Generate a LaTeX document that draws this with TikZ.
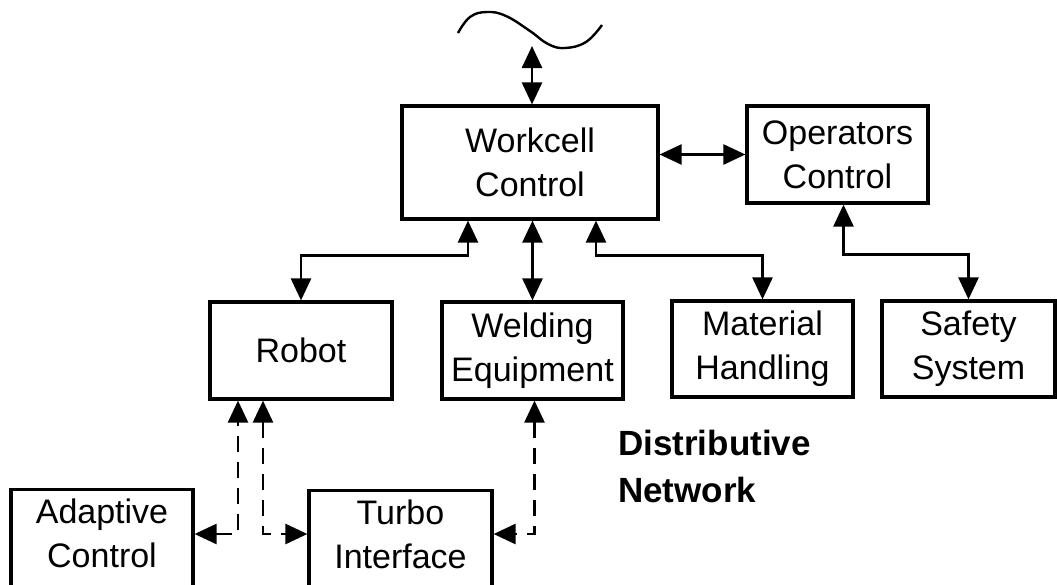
\documentclass[tikz,border=0pt]{standalone}
\usepackage{fontspec}
\setmainfont{Liberation Sans}
\usetikzlibrary{arrows.meta}

\tikzset{
    block/.style = {draw, line width=3.2pt, align=center, inner sep=0pt,
                    font=\fontsize{34}{44}\selectfont},
    cutblock/.style = {block, anchor=north, inner ysep=9pt, text depth=24pt},
    tip/.tip = {Triangle[length=22pt,width=20pt]},
    link/.style = {line width=2.6pt, tip-tip},
    dlink/.style = {link, dash pattern=on 16pt off 10pt}
}

\begin{document}
\begin{tikzpicture}[x=1pt,y=-1pt]
    \clip (0,0) rectangle (1057,584);

    \node[block, minimum width=256pt, minimum height=113pt] (work) at (530,162.5) {Workcell\\Control};
    \node[block, minimum width=181pt, minimum height=97pt] (oper) at (837.5,154.5) {Operators\\Control};
    \node[block, minimum width=182pt, minimum height=97pt] (robot) at (301,350.5) {Robot};
    \node[block, minimum width=181pt, minimum height=97pt] (weld) at (532.5,350.5) {Welding\\Equipment};
    \node[block, minimum width=181pt, minimum height=96pt] (mat) at (762.5,349) {Material\\Handling};
    \node[block, minimum width=173pt, minimum height=96pt] (safe) at (968.5,349) {Safety\\System};
    \node[cutblock, minimum width=182pt] (adapt) at (102,488) {Adaptive\\Control};
    \node[cutblock, minimum width=183pt] (turbo) at (400.5,489) {Turbo\\Interface};

    \node[anchor=north west, inner sep=0pt, align=left,
          font=\bfseries\fontsize{35}{47}\selectfont] (dist) at (618,430) {Distributive\\Network};

    \draw[line width=2.4pt] plot[smooth, tension=0.7] coordinates
        {(458,33) (470,17) (487,12) (506,16) (530,31) (548,44) (565,48) (586,42) (602,25)};
    \coordinate (net) at (532,46);
    \coordinate (lvl) at (0,534);

    \draw[link] (net) -- (net |- work.north);
    \draw[link] (oper.west -| work.east) -- (oper.west);
    \draw[link] ([xshift=-62pt]work.south) -- ++(0,35) -| (robot.north);
    \draw[link] (weld.north |- work.south) -- (weld.north);
    \draw[link] ([xshift=66pt]work.south) -- ++(0,35) -| (mat.north);
    \draw[link] ([xshift=6pt]oper.south) -- ++(0,50) -| (safe.north);

    \draw[dlink] (adapt.east |- lvl) -| ([xshift=-63pt]robot.south);
    \draw[dlink] ([xshift=-38pt]robot.south) |- (turbo.west |- lvl);
    \draw[dlink] ([xshift=2pt]weld.south) |- (turbo.east |- lvl);
\end{tikzpicture}
\end{document}
